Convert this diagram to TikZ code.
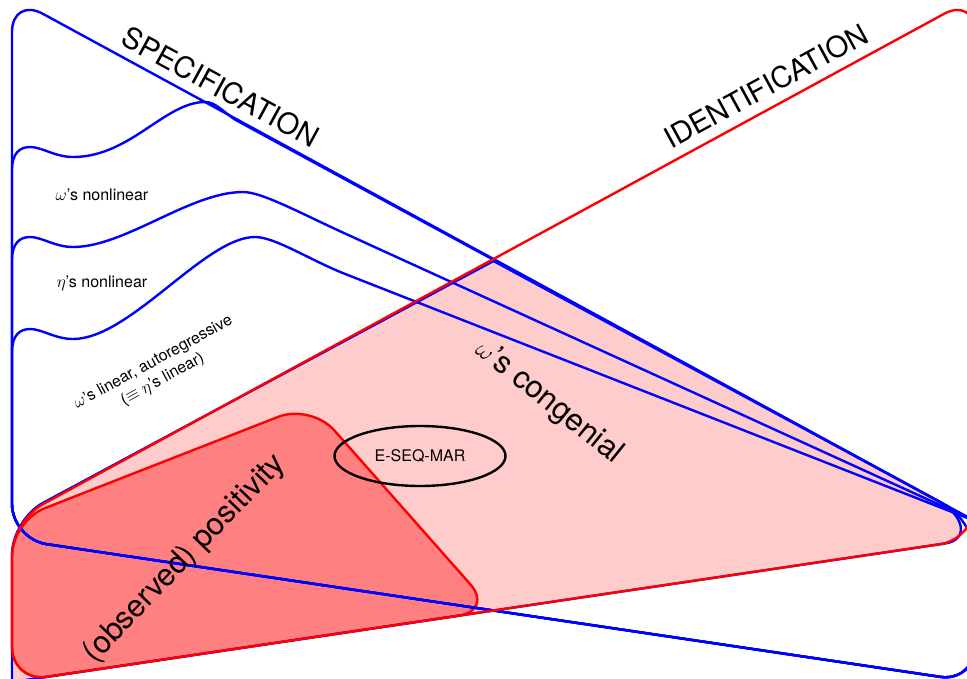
\documentclass[tikz,border=0pt]{standalone}
\usepackage{fontspec}
\setmainfont{TeX Gyre Heros}
\usetikzlibrary{shapes.geometric}
\begin{document}
\begin{tikzpicture}[
  x=1pt, y=-1pt,
  specline/.style={draw=blue, line width=2.4pt, line join=round},
  identline/.style={draw=red, line width=2.4pt, line join=round},
  biglabel/.style={font=\fontsize{29}{34}\selectfont, inner sep=0pt},
  slantlabel/.style={font=\fontsize{31}{36}\selectfont, inner sep=0pt},
  smalllabel/.style={font=\fontsize{16}{19.5}\selectfont, align=center, inner sep=0pt},
  ovalbox/.style={draw=black, line width=2.4pt, ellipse, minimum width=171pt, minimum height=60pt, font=\fontsize{16}{19.5}\selectfont},
]

\definecolor{congenialFill}{RGB}{255,204,204}
\definecolor{positivityFill}{RGB}{255,128,128}

\def\rc{35pt}

% Frame of the picture.
\useasboundingbox (0,0) rectangle (967,678);
\clip (0,0) rectangle (967,678);

% Corners of the regions.
\coordinate (cross) at (493.5,259);
\coordinate (specTL) at (12,-3);
\coordinate (specR) at (975,521);
\coordinate (specBR) at (975,682);
\coordinate (specBL) at (12,539);
\coordinate (identL) at (12,521);
\coordinate (identTR) at (975,-3);
\coordinate (identBR) at (975,539);
\coordinate (identBL) at (12,682);
\coordinate (posT) at (311,404);
\coordinate (congL) at (12,519.5);
\coordinate (congX) at (493.5,261);

% Helper macro: bump y, two S controls, crest x, crest y, crest control, exit control, exit point.
\newcommand{\specwave}[8]{%
  \draw[specline] (12,#1+23) .. controls (12,#1+6) and (20,#1) .. (30,#1)
    .. controls (42,#1) and (55,#1+10) .. (73,#1+10)
    .. controls (#2,#1+10) and (#3,#5) .. (#4,#5)
    .. controls (#6,#5) and #7 .. #8
    -- (specR) [rounded corners=\rc] -- (specBR) -- (specBL) -- (12,#1+23);%
}

% Congenial region (fill only).
\path[fill=congenialFill] (congX) -- (938,500.9)
  .. controls (964.3,515.2) and (969.7,539.8) .. (945,543.5)
  -- (identBL) [rounded corners=\rc] -- (congL) -- (congX);

% Positivity region.
\draw[identline, fill=positivityFill, rounded corners=\rc]
  (identL) -- (posT) -- (cross |- 0,610.5) -- (identBL) -- cycle;

% Specification: outer border and nested waves.
\draw[specline, rounded corners=\rc] (specTL) -- (specR) -- (specBR) -- (specBL) -- cycle;
\specwave{147}{130}{165}{205}{102}{215}{(222,110.6)}{(235,119.6)}
\specwave{237}{125}{190}{243}{192}{262}{(300,213)}{(345,233.5)}
\specwave{329}{130}{205}{255}{237}{275}{(310,260.1)}{(345,273.9)}

% Congenial border.
\draw[specline] (congX) -- (938,500.9)
  .. controls (964.3,515.2) and (969.7,539.8) .. (945,543.5)
  -- (identBL) [rounded corners=\rc] -- (congL) -- (congX);

% Identification border.
\draw[identline, rounded corners=\rc] (identL) -- (identTR) -- (identBR) -- (identBL) -- cycle;

% E-SEQ-MAR.
\node[ovalbox] (eseqmar) at (420,456) {E-SEQ-MAR};

% Labels.
\node[biglabel, rotate=-28.6] (specLabel) at (221,87) {SPECIFICATION};
\node[biglabel, rotate=28.6] (identLabel) at (766,86) {IDENTIFICATION};
\node[slantlabel, rotate=-38.8] (congenialLabel) at (549,402) {$\omega$'s congenial};
\node[slantlabel, rotate=46] (positivityLabel) at (185,559) {(observed) positivity};
\node[smalllabel] (omegaNonlin) at (102,195) {$\omega$'s nonlinear};
\node[smalllabel] (etaNonlin) at (102,283) {$\eta$'s nonlinear};
\node[smalllabel, rotate=28.6] (omegaLinear) at (158,371) {$\omega$'s linear, autoregressive\\($\equiv$ $\eta$'s linear)};

\end{tikzpicture}
\end{document}
